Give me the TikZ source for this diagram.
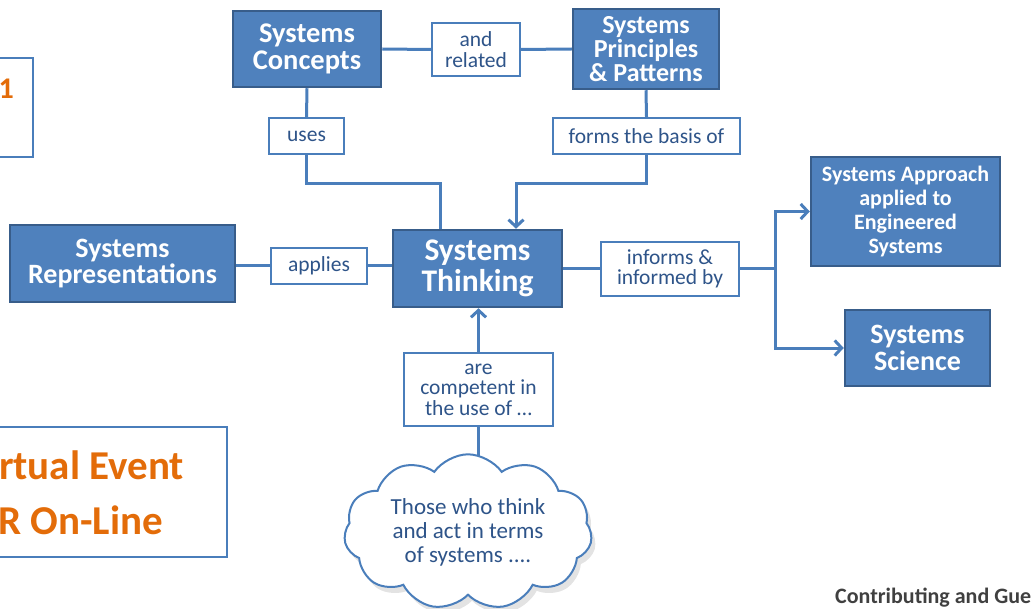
\documentclass[tikz,border=0pt]{standalone}
\usepackage{fontspec}
\setmainfont{Carlito}
\usetikzlibrary{arrows.meta,shapes.symbols,shadows,backgrounds}
\definecolor{boxfill}{HTML}{4F81BD}
\definecolor{boxline}{HTML}{385D8A}
\definecolor{connc}{HTML}{4A7EBB}
\definecolor{labtext}{HTML}{2E5489}
\definecolor{orng}{HTML}{E36C09}
\definecolor{greytext}{HTML}{404040}
\begin{document}
\begin{tikzpicture}[x=1pt,y=-1pt,
  mainbox/.style={draw=boxline, line width=2.5pt, fill=boxfill, text=white, align=center, inner sep=0pt},
  lab/.style={draw=connc, line width=2pt, fill=white, text=labtext, align=center, inner sep=0pt, font=\fontsize{21.5}{20.5}\selectfont},
  conn/.style={draw=connc, line width=3pt},
  arr/.style={conn, -{Straight Barb[length=7pt,width=15pt,line width=3pt]}},
  sidebox/.style={draw=connc, line width=2.8pt},
  orangetext/.style={text=orng, font=\fontsize{41}{42}\selectfont\bfseries, inner sep=0pt}
]
\clip (0,0) rectangle (1032,609);
\useasboundingbox (0,0) rectangle (1032,609);

% side boxes (partly outside the picture)
\draw[sidebox] (-30,58) rectangle (33,157);
\node[orangetext, anchor=east, font=\fontsize{30}{32}\selectfont\bfseries] (one) at (14,89) {1};
\draw[sidebox] (-30,427) rectangle (227,557);
\node[orangetext, anchor=west] (ev1) at (-1,465) {rtual Event};
\node[orangetext, anchor=west] (ev2) at (-2,520) {R On-Line};

% main boxes
\node[mainbox, minimum width=148pt, minimum height=76pt, font=\fontsize{28.5}{27}\selectfont\bfseries] (conc) at (307,49) {Systems\\Concepts};
\node[mainbox, minimum width=146pt, minimum height=80pt, font=\fontsize{26}{24.3}\selectfont\bfseries] (prin) at (646,49) {Systems\\Principles\\\& Patterns};
\node[mainbox, minimum width=169pt, minimum height=77pt, font=\fontsize{31.5}{31}\selectfont\bfseries] (think) at (477.5,268.5) {Systems\\Thinking};
\node[mainbox, minimum width=225pt, minimum height=77pt, font=\fontsize{28}{26}\selectfont\bfseries] (reps) at (122.5,263.5) {Systems\\Representations};
\node[mainbox, minimum width=189pt, minimum height=109pt, font=\fontsize{22}{24}\selectfont\bfseries] (appr) at (905.5,211.5) {Systems Approach\\applied to\\Engineered\\Systems};
\node[mainbox, minimum width=145pt, minimum height=76pt, font=\fontsize{28}{26.5}\selectfont\bfseries] (sci) at (917.5,348) {Systems\\Science};

% label boxes
\node[lab, minimum width=88pt, minimum height=53pt] (rel) at (476,49.5) {and\\related};
\node[lab, minimum width=75pt, minimum height=36pt] (uses) at (306.5,136) {uses};
\node[lab, minimum width=187pt, minimum height=36pt] (basis) at (646.5,136) {forms the basis of};
\node[lab, minimum width=96pt, minimum height=36pt] (app) at (319,266) {applies};
\node[lab, minimum width=138pt, minimum height=54pt] (inf) at (670,269) {informs \&\\informed by};
\node[lab, minimum width=149pt, minimum height=73pt] (comp) at (478.5,389.5) {are\\competent in\\the use of \ldots};

% cloud
\node[cloud, cloud puffs=11, cloud puff arc=110, aspect=1.7, draw=connc, line width=2pt, fill=white,
      drop shadow={shadow xshift=4pt, shadow yshift=-6pt, fill=black!22},
      minimum width=248pt, minimum height=140pt, text=labtext, align=center, inner sep=0pt,
      font=\fontsize{23}{24}\selectfont] (cloud) at (468,532) {Those who think\\and act in terms\\of systems ....};

% coordinates
\coordinate (ca) at (440,184);
\coordinate (cb) at (516,184);
\coordinate (split) at (775,269);

% connectors
\draw[conn] (conc.east) -- (rel.west);
\draw[conn] (rel.east) -- (prin.west);
\draw[conn] (conc.south) -- (uses.north);
\draw[conn] (uses.south) |- (ca) -- (ca |- think.north);
\draw[conn] (prin.south) -- (basis.north);
\draw[arr] (basis.south) |- (cb) -- (cb |- think.north);
\draw[conn] (app.west -| reps.east) -- (app.west);
\draw[conn] (app.east) -- (app.east -| think.west);
\draw[conn] (think.east |- inf.west) -- (inf.west);
\draw[conn] (inf.east) -- (split);
\draw[arr] (split) |- (appr.west);
\draw[arr] (split) |- (sci.west);
\draw[arr] (comp.north) -- (comp.north |- think.south);
\begin{scope}[on background layer]
\draw[conn] (comp.south) -- (comp.south |- cloud.center);
\end{scope}

% footer
\node[anchor=base west, text=greytext, font=\fontsize{22}{24}\selectfont\bfseries, inner sep=0pt] (foot) at (835,603.5) {Contributing and Gue};
\end{tikzpicture}
\end{document}
